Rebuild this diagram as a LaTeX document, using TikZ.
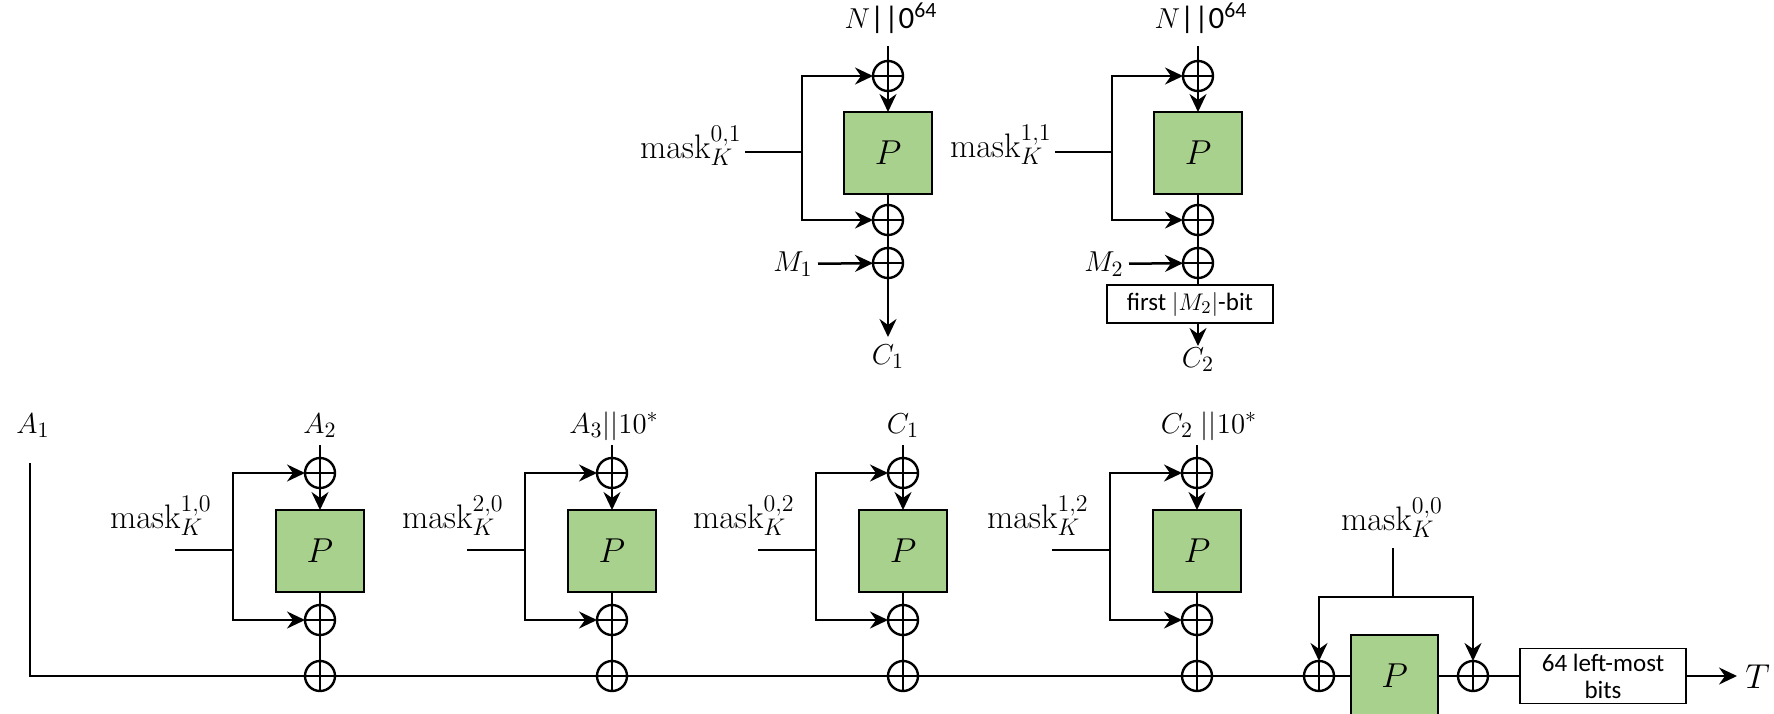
\documentclass[tikz,border=0pt]{standalone}
\usepackage{fontspec}
\setsansfont{Carlito}
\usetikzlibrary{arrows.meta}
\definecolor{pgreen}{HTML}{A9D18E}
\begin{document}
\begin{tikzpicture}[x=0.5pt,y=-0.5pt,
  ln/.style={line width=1.25pt},
  arr/.style={line width=1.25pt,-{Stealth[length=9pt,width=8.5pt,inset=3pt]}},
  xor/.style={circle,draw,line width=1.2pt,minimum size=15pt,inner sep=0pt,outer sep=0pt,
    path picture={\draw[line width=1.2pt] (path picture bounding box.north)--(path picture bounding box.south) (path picture bounding box.west)--(path picture bounding box.east);}},
  perm/.style={draw,line width=0.8pt,fill=pgreen,minimum width=44pt,minimum height=41pt,inner sep=0pt,outer sep=0pt,font=\fontsize{16}{18}\selectfont},
  lbl/.style={inner sep=0pt,font=\fontsize{15.5}{18}\selectfont},
  mlbl/.style={inner sep=0pt,font=\fontsize{17}{19}\selectfont},
  tbox/.style={draw,line width=0.8pt,fill=white,inner sep=0pt,outer sep=0pt,align=center,font=\sffamily\fontsize{12.5}{13.5}\selectfont}]
\useasboundingbox (0,0) rectangle (1774,713);

% ---------- top row, block 1 ----------
\node[xor] (t1a) at (888,76) {};
\node[perm] (p1) at (888,153) {$P$};
\node[xor] (t1b) at (888,220) {};
\node[xor] (t1c) at (888,263) {};
\node[lbl,anchor=base] (n1) at (891,28) {$N$\textsf{||0\textsuperscript{64}}};
\coordinate (n1s) at (888,46);
\draw[ln] (n1s) -- (t1a);
\draw[arr] (t1a) -- (p1);
\draw[ln] (p1) -- (t1b) -- (t1c);
\coordinate (c1e) at (888,337);
\draw[arr] (t1c) -- (c1e);
\node[lbl,anchor=base] (c1) at (888,364) {$C_1$};
\node[mlbl,anchor=base east] (m01) at (742,158) {$\mathrm{mask}_K^{0,1}$};
\coordinate (m01e) at (745,152);
\coordinate (j1) at (802,152);
\draw[ln] (m01e) -- (j1);
\draw[arr] (j1) |- (t1a);
\draw[arr] (j1) |- (t1b);
\node[lbl,anchor=east,inner xsep=2.5pt] (mm1) at (818,264) {$M_1$};
\draw[arr] (mm1) -- (t1c);

% ---------- top row, block 2 ----------
\node[xor] (t2a) at (1198,76) {};
\node[perm] (p2) at (1198,153) {$P$};
\node[xor] (t2b) at (1198,220) {};
\node[xor] (t2c) at (1198,263) {};
\node[lbl,anchor=base] (n2) at (1201,28) {$N$\textsf{||0\textsuperscript{64}}};
\coordinate (n2s) at (1198,46);
\draw[ln] (n2s) -- (t2a);
\draw[arr] (t2a) -- (p2);
\draw[ln] (p2) -- (t2b) -- (t2c);
\node[tbox,minimum width=83pt,minimum height=19pt] (f2) at (1190,304) {first $|M_2|$-bit};
\draw[ln] (t2c) -- (t2c |- f2.north);
\coordinate (c2e) at (1198,346);
\draw[arr] (t2c |- f2.south) -- (c2e);
\node[lbl,anchor=base] (c2) at (1198,367) {$C_2$};
\node[mlbl,anchor=base east] (m11) at (1052,157) {$\mathrm{mask}_K^{1,1}$};
\coordinate (m11e) at (1055,152);
\coordinate (j2) at (1112,152);
\draw[ln] (m11e) -- (j2);
\draw[arr] (j2) |- (t2a);
\draw[arr] (j2) |- (t2b);
\node[lbl,anchor=east,inner xsep=2.5pt] (mm2) at (1129,264) {$M_2$};
\draw[arr] (mm2) -- (t2c);

% ---------- bottom row ----------
\foreach \i/\x/\lx/\tl/\mk in {1/320/320/{$A_2$}/{1,0},2/612/614/{$A_3||10^*$}/{2,0},3/903/903/{$C_1$}/{0,2},4/1197/1209/{$C_2\;||10^*$}/{1,2}}{
  \node[xor] (ba\i) at (\x,473) {};
  \node[perm] (bp\i) at (\x,551) {$P$};
  \node[xor] (bb\i) at (\x,620) {};
  \node[xor] (bc\i) at (\x,676) {};
  \node[lbl,anchor=base] (bt\i) at (\lx,433) {\tl};
  \coordinate (bts\i) at (\x,445);
  \draw[ln] (bts\i) -- (ba\i);
  \draw[arr] (ba\i) -- (bp\i);
  \draw[ln] (bp\i) -- (bb\i) -- (bc\i);
  \node[mlbl,anchor=base east] (bm\i) at (\x-108,528) {$\mathrm{mask}_K^{\mk}$};
  \coordinate (bms\i) at (\x-145,550);
  \coordinate (bj\i) at (\x-87,550);
  \draw[ln] (bms\i) -- (bj\i);
  \draw[arr] (bj\i) |- (ba\i);
  \draw[arr] (bj\i) |- (bb\i);
}

% ---------- final block ----------
\node[xor] (fl) at (1319,676) {};
\node[perm,minimum width=43.5pt] (fp) at (1394.5,676) {$P$};
\node[xor] (fr) at (1473,676) {};
\node[tbox,minimum width=83pt,minimum height=27.5pt] (fb) at (1603,676) {64 left-most\\bits};
\node[mlbl,anchor=base] (fm) at (1392,530) {$\mathrm{mask}_K^{0,0}$};
\coordinate (fms) at (1393,548);
\coordinate (fj) at (1393,597);
\draw[ln] (fms) -- (fj);
\draw[arr] (fj) -| (fl);
\draw[arr] (fj) -| (fr);
\draw[ln] (fl) -- (fp) -- (fr) -- (fb);
\coordinate (te) at (1737,676);
\draw[arr] (fb) -- (te);
\node[lbl,anchor=west,font=\fontsize{17}{19}\selectfont] (T) at (1745,677) {$T$};

% ---------- main line ----------
\coordinate (a1s) at (30,463);
\node[lbl,anchor=base] (a1) at (33,433) {$A_1$};
\draw[ln] (a1s) |- (bc1);
\draw[ln] (bc1) -- (bc2) -- (bc3) -- (bc4) -- (fl);
\end{tikzpicture}
\end{document}
